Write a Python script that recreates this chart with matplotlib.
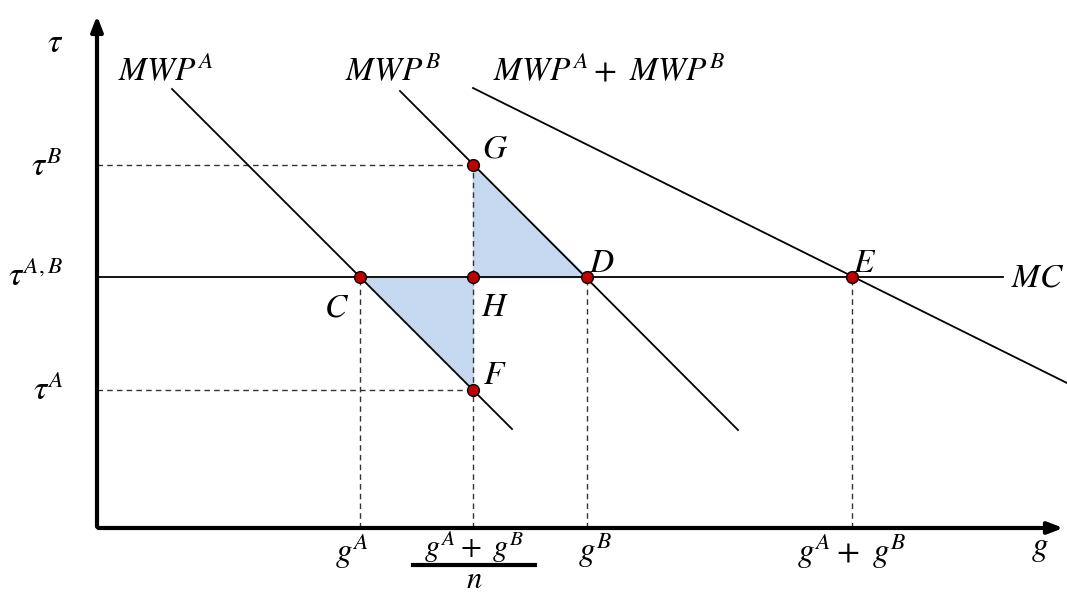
import matplotlib
matplotlib.use("Agg")
import matplotlib.pyplot as plt

plt.rcParams['mathtext.fontset'] = 'stix'

# price / quantity levels (diagram units)
tau_A, tau_AB, tau_B = 138, 251, 363
g_A, g_mid, g_B, g_sum = 263, 376, 490, 755

# demand curves and marginal cost
mwp_a_x, mwp_a_y = [75, 415], [439, 99]
mwp_b_x, mwp_b_y = [303, 641], [437, 98]
mwp_sum_x, mwp_sum_y = [376, 970], [440, 145]
mc_x, mc_y = [0, 906], [tau_AB, tau_AB]

# labelled points
pt_names = ['G', 'C', 'H', 'D', 'E', 'F']
pt_x = [g_mid, g_A, g_mid, g_B, g_sum, g_mid]
pt_y = [tau_B, tau_AB, tau_AB, tau_AB, tau_AB, tau_A]

fig = plt.figure(figsize=(10.67, 5.95), dpi=100)
ax = fig.add_axes([0, 0, 1, 1])
ax.set_xlim(-97, 970)
ax.set_ylim(-67, 528)
ax.axis('off')

fs = 24
line_kw = dict(color='black', lw=1.3)
dash_kw = dict(color='#333333', lw=1.0, ls=(0, (4, 3)))

# shaded triangles
ax.fill([g_mid, g_mid, g_B], [tau_B, tau_AB, tau_AB], color='#c6d8ef', zorder=1)
ax.fill([g_A, g_mid, g_mid], [tau_AB, tau_AB, tau_A], color='#c6d8ef', zorder=1)

# dashed guides
ax.plot([0, g_mid], [tau_B, tau_B], **dash_kw)
ax.plot([0, g_mid], [tau_A, tau_A], **dash_kw)
for gx, gy in [(g_A, tau_AB), (g_mid, tau_B), (g_B, tau_AB), (g_sum, tau_AB)]:
    ax.plot([gx, gx], [0, gy], **dash_kw)

ax.plot(mwp_a_x, mwp_a_y, **line_kw)
ax.plot(mwp_b_x, mwp_b_y, **line_kw)
ax.plot(mwp_sum_x, mwp_sum_y, **line_kw)
ax.plot(mc_x, mc_y, **line_kw)

# axes with arrows
arrow = dict(arrowstyle='-|>,head_width=0.35,head_length=0.9', lw=3, color='black')
ax.annotate('', xy=(0, 515), xytext=(0, -1.5), arrowprops=arrow, annotation_clip=False)
ax.annotate('', xy=(969, 0), xytext=(-1.5, 0), arrowprops=arrow, annotation_clip=False)

ax.plot(pt_x, pt_y, 'o', ms=8.5, mfc='#c00000', mec='black', mew=1, zorder=5)

# axis labels
ax.text(-42, 486, r'$\tau$', fontsize=fs, ha='center', va='center')
ax.text(-50, 361, r'$\tau^B$', fontsize=fs, ha='center', va='center')
ax.text(-61, 252, r'$\tau^{A,B}$', fontsize=fs, ha='center', va='center')
ax.text(-49, 138, r'$\tau^A$', fontsize=fs, ha='center', va='center')

ax.text(255, -23, r'$g^A$', fontsize=fs, ha='center', va='center')
ax.text(g_mid + 1, -19, r'$g^A+\ g^B$', fontsize=22, ha='center', va='center')
ax.plot([316, 438], [-37, -37], color='black', lw=3)
ax.text(g_mid + 1, -52, r'$n$', fontsize=22, ha='center', va='center')
ax.text(498, -23, r'$g^B$', fontsize=fs, ha='center', va='center')
ax.text(g_sum, -23, r'$g^A+\ g^B$', fontsize=fs, ha='center', va='center')
ax.text(943, -19, r'$g$', fontsize=fs, ha='center', va='center')

# curve labels
ax.text(69, 457, r'$MWP^A$', fontsize=fs, ha='center', va='center')
ax.text(296, 457, r'$MWP^B$', fontsize=fs, ha='center', va='center')
ax.text(396, 457, r'$MWP^A+\ MWP^B$', fontsize=fs, ha='left', va='center')
ax.text(967, 251, r'$MC$', fontsize=fs, ha='right', va='center')

offsets = {'G': (22, 17), 'C': (-23, -30), 'H': (22, -30),
           'D': (15, 15), 'E': (13, 15), 'F': (22, 15)}
for name, px, py in zip(pt_names, pt_x, pt_y):
    dx, dy = offsets[name]
    ax.text(px + dx, py + dy, '$' + name + '$', fontsize=fs, ha='center', va='center')

fig.savefig('out.png', dpi=100)
